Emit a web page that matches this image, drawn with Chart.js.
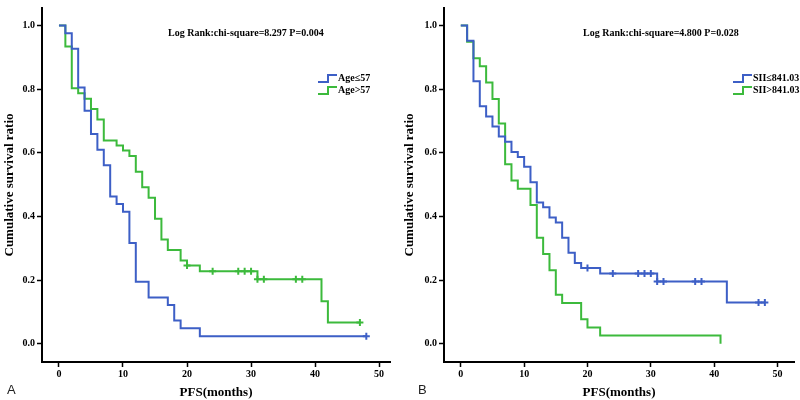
<!DOCTYPE html>
<html>
<head>
<meta charset="utf-8">
<script src="https://cdn.jsdelivr.net/npm/chart.js@4.4.1/dist/chart.umd.min.js"></script>
<style>
  body { margin: 0; background: #fff; }
  .panel { position: absolute; top: 0; width: 400px; height: 400px; }
</style>
</head>
<body>
<div class="panel" style="left:0"><canvas id="chartA" width="400" height="400"></canvas></div>
<div class="panel" style="left:400px"><canvas id="chartB" width="400" height="400"></canvas></div>
<script>
const xTicks = [0, 10, 20, 30, 40, 50];
const yTicks = [0, 0.2, 0.4, 0.6, 0.8, 1.0];

// panel A - age
const ageLowTime = [0, 1, 2, 3, 4, 5, 6, 7, 8, 9, 10, 11, 12, 14, 17, 18, 19, 22, 48];
const ageLowSurv = [1, 0.976, 0.927, 0.805, 0.732, 0.659, 0.610, 0.561, 0.463, 0.439, 0.415, 0.317, 0.195, 0.146, 0.122, 0.073, 0.049, 0.024, 0.024];
const ageLowCensor = [48];
const ageHighTime = [0, 1, 2, 3, 4, 5, 6, 7, 9, 10, 11, 12, 13, 14, 15, 16, 17, 19, 20, 22, 31, 41, 42, 47];
const ageHighSurv = [1, 0.934, 0.803, 0.787, 0.770, 0.738, 0.705, 0.639, 0.623, 0.607, 0.590, 0.541, 0.492, 0.459, 0.393, 0.328, 0.295, 0.262, 0.246, 0.228, 0.203, 0.134, 0.067, 0.067];
const ageHighCensor = [20, 24, 28, 29, 30, 31, 32, 37, 38, 47];

// panel B - SII
const siiLowTime = [0, 1, 2, 3, 4, 5, 6, 7, 8, 9, 10, 11, 12, 13, 14, 15, 16, 17, 18, 19, 22, 31, 42, 48];
const siiLowSurv = [1, 0.952, 0.825, 0.746, 0.714, 0.683, 0.651, 0.635, 0.603, 0.587, 0.556, 0.508, 0.444, 0.429, 0.397, 0.381, 0.333, 0.286, 0.254, 0.238, 0.221, 0.196, 0.130, 0.130];
const siiLowCensor = [20, 24, 28, 29, 30, 31, 32, 37, 38, 47, 48];
const siiHighTime = [0, 1, 2, 3, 4, 5, 6, 7, 8, 9, 11, 12, 13, 14, 15, 16, 19, 20, 22, 41];
const siiHighSurv = [1, 0.949, 0.897, 0.872, 0.821, 0.769, 0.692, 0.564, 0.513, 0.487, 0.436, 0.333, 0.282, 0.231, 0.154, 0.128, 0.077, 0.051, 0.026, 0];
const siiHighCensor = [];

const BLUE = "#3d5fc6";
const GREEN = "#3cba3c";
const SERIF = "'Liberation Serif', 'Times New Roman', serif";

function toPoints(times, surv) {
  return times.map((t, i) => ({ x: t, y: surv[i] }));
}

function survAt(times, surv, t) {
  let v = surv[0];
  times.forEach((tt, i) => {
    if (tt <= t) v = surv[i];
  });
  return v;
}

function curve(label, times, surv, color) {
  return {
    label: label,
    data: toPoints(times, surv),
    borderColor: color,
    borderWidth: 2,
    stepped: "before",
    pointRadius: 0,
    fill: false,
  };
}

function censorMarks(times, surv, censor, color) {
  return {
    label: "censored",
    data: censor.map((t) => ({ x: t, y: survAt(times, surv, t) })),
    showLine: false,
    pointStyle: "cross",
    pointRadius: 3.5,
    borderColor: color,
    borderWidth: 2,
  };
}

// text, legend and panel letter drawn over the chart
function annotations(info) {
  return {
    id: "annot_" + info.letter,
    afterDraw(chart) {
      const ctx = chart.ctx;
      ctx.save();
      ctx.fillStyle = "#000";
      ctx.font = "bold 10px " + SERIF;
      ctx.textBaseline = "middle";
      ctx.textAlign = "left";
      ctx.fillText(info.logRank, info.logX, 33);

      info.legend.forEach((item, i) => {
        const y = 78 + i * 12;
        const x0 = info.legX;
        ctx.strokeStyle = item.color;
        ctx.lineWidth = 2;
        ctx.beginPath();
        ctx.moveTo(x0, y + 4);
        ctx.lineTo(x0 + 10, y + 4);
        ctx.lineTo(x0 + 10, y - 3);
        ctx.lineTo(x0 + 19, y - 3);
        ctx.stroke();
        ctx.fillStyle = "#000";
        ctx.fillText(item.text, x0 + 20, y);
      });

      ctx.font = "13px 'Liberation Sans', Arial, sans-serif";
      ctx.fillStyle = "#222";
      ctx.fillText(info.letter, info.letterX, 390);
      ctx.restore();
    },
  };
}

function makeChart(id, datasets, info) {
  const ctx = document.getElementById(id).getContext("2d");
  return new Chart(ctx, {
    type: "line",
    data: { datasets: datasets },
    options: {
      responsive: false,
      animation: false,
      devicePixelRatio: 1,
      layout: { padding: { top: 4, right: info.padRight, bottom: 0, left: 0 } },
      plugins: { legend: { display: false }, tooltip: { enabled: false } },
      scales: {
        x: {
          type: "linear",
          min: -2.65,
          max: info.xMax,
          afterBuildTicks: (s) => { s.ticks = xTicks.map((v) => ({ value: v })); },
          afterFit: (s) => { s.height = 38; },
          grid: { drawOnChartArea: false, drawTicks: true, tickLength: 5, tickColor: "#000", tickWidth: 1.5 },
          border: { color: "#000", width: 2 },
          ticks: { color: "#000", padding: 1, font: { family: SERIF, weight: "bold", size: 10 } },
          title: { display: true, text: "PFS(months)", color: "#000", padding: 0, font: { family: SERIF, weight: "bold", size: 13 } },
        },
        y: {
          type: "linear",
          min: -0.057,
          max: 1.055,
          afterBuildTicks: (s) => { s.ticks = yTicks.map((v) => ({ value: v })); },
          afterFit: (s) => { s.width = info.axisW; },
          grid: { drawOnChartArea: false, drawTicks: true, tickLength: 5, tickColor: "#000", tickWidth: 1.5 },
          border: { color: "#000", width: 2 },
          ticks: {
            color: "#000",
            padding: 2,
            font: { family: SERIF, weight: "bold", size: 10 },
            callback: (v) => v.toFixed(1),
          },
          title: { display: true, text: "Cumulative survival ratio", color: "#000", padding: { top: 2, bottom: 0 }, font: { family: SERIF, weight: "bold", size: 13 } },
        },
      },
    },
    plugins: [annotations(info)],
  });
}

makeChart(
  "chartA",
  [
    curve("Age≤57", ageLowTime, ageLowSurv, BLUE),
    curve("Age>57", ageHighTime, ageHighSurv, GREEN),
    censorMarks(ageLowTime, ageLowSurv, ageLowCensor, BLUE),
    censorMarks(ageHighTime, ageHighSurv, ageHighCensor, GREEN),
  ],
  {
    letter: "A", letterX: 7, axisW: 42, padRight: 10, xMax: 51.7,
    logRank: "Log Rank:chi-square=8.297 P=0.004", logX: 168, legX: 318,
    legend: [{ text: "Age≤57", color: BLUE }, { text: "Age>57", color: GREEN }],
  }
);

makeChart(
  "chartB",
  [
    curve("SII≤841.03", siiLowTime, siiLowSurv, BLUE),
    curve("SII>841.03", siiHighTime, siiHighSurv, GREEN),
    censorMarks(siiLowTime, siiLowSurv, siiLowCensor, BLUE),
    censorMarks(siiHighTime, siiHighSurv, siiHighCensor, GREEN),
  ],
  {
    letter: "B", letterX: 18, axisW: 44, padRight: 2, xMax: 52.6,
    logRank: "Log Rank:chi-square=4.800 P=0.028", logX: 183, legX: 333,
    legend: [{ text: "SII≤841.03", color: BLUE }, { text: "SII>841.03", color: GREEN }],
  }
);
</script>
</body>
</html>
